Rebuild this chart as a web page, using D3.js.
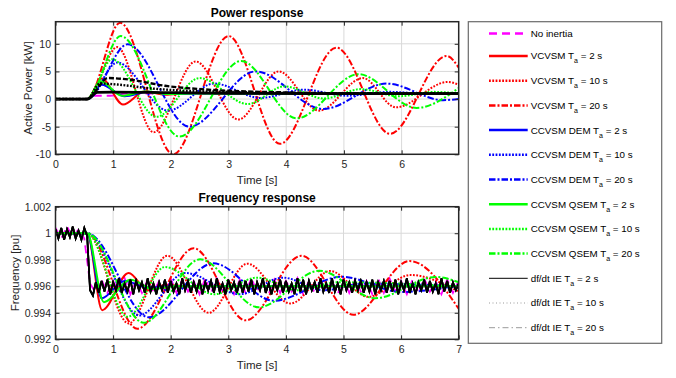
<!DOCTYPE html>
<html><head><meta charset="utf-8">
<script src="https://cdn.jsdelivr.net/npm/d3@7"></script>
<style>body{margin:0;background:#fff} svg{display:block;font-family:"Liberation Sans",Arial,sans-serif}</style>
</head><body><svg id="c" width="676" height="378"></svg>
<script>
// ---------- data ----------
const seriesNames = ["No inertia","VCVSM T_a = 2 s","VCVSM T_a = 10 s","VCVSM T_a = 20 s",
  "CCVSM DEM T_a = 2 s","CCVSM DEM T_a = 10 s","CCVSM DEM T_a = 20 s",
  "CCVSM QSEM T_a = 2 s","CCVSM QSEM T_a = 10 s","CCVSM QSEM T_a = 20 s",
  "df/dt IE T_a = 2 s","df/dt IE T_a = 10 s","df/dt IE T_a = 20 s"];
const powerXTicks = [0,1,2,3,4,5,6];
const freqXTicks = [0,1,2,3,4,5,6,7];
const powerYTicks = [-10,-5,0,5,10];
const powerYTickLabels = ["-10","-5","0","5","10"];
const freqYTicks = [0.992,0.994,0.996,0.998,1.0,1.002];
const freqYTickLabels = ["0.992","0.994","0.996","0.998","1","1.002"];

// Active power [kW]: [time s, value] points
const pNoInertia = [[0,0],[0.55,0],[0.68,0.6],[0.95,0.6],[1.25,1.0],[6.99,1.0]];
const pVCVSM2  = [[0,0],[0.55,0],[0.8,3.7],[1.17,-1.0],[1.55,1.4],[1.9,0.8],[2.3,1.05],[6.99,1.0]];
const pVCVSM10 = [[0,0],[0.55,0],[1.07,9.4],[1.7,-6.0],[2.43,6.8],[3.17,-3.7],[3.87,5.0],[4.57,-2.1],[5.33,3.8],[5.9,-1.5],[6.8,3.1],[6.99,2.6]];
const pVCVSM20 = [[0,0],[0.55,0],[1.12,13.8],[2.04,-10.0],[3.0,11.4],[3.89,-8.1],[4.87,9.3],[5.8,-6.3],[6.78,7.8],[6.99,5.7]];
const pDEM2  = [[0,0],[0.55,0],[0.8,2.6],[1.2,0.5],[1.6,1.3],[2.0,0.9],[2.4,1.0],[6.99,1.0]];
const pDEM10 = [[0,0],[0.55,0],[1.07,6.6],[1.95,-2.1],[2.75,2.8],[3.55,0.2],[4.3,1.7],[5.05,0.6],[5.8,1.3],[6.5,0.9],[6.99,1.0]];
const pDEM20 = [[0,0],[0.55,0],[1.25,9.9],[2.32,-5.0],[3.47,5.0],[4.64,-1.8],[5.74,2.8],[6.72,-0.2],[6.99,0.0]];
const pQSEM2  = [[0,0],[0.55,0],[0.78,3.2],[1.15,0.6],[1.55,1.35],[1.95,0.9],[2.4,1.0],[6.99,1.0]];
const pQSEM10 = [[0,0],[0.55,0],[0.98,7.2],[1.75,-3.2],[2.5,3.8],[3.33,-0.9],[3.97,2.3],[4.65,0.1],[5.3,1.8],[5.95,0.5],[6.55,1.3],[6.99,1.0]];
const pQSEM20 = [[0,0],[0.55,0],[1.13,11.4],[2.15,-6.8],[3.22,6.9],[4.18,-3.5],[5.25,4.5],[6.26,-1.6],[6.99,2.0]];
const pIE2  = [[0,0],[0.55,0],[0.72,1.2],[1.0,1.25],[2.0,1.15],[3.0,1.05],[4.5,1.0],[6.99,1.0]];
const pIE10 = [[0,0],[0.55,0],[0.77,2.8],[1.1,2.6],[1.58,2.0],[2.16,1.55],[3.0,1.3],[4.0,1.1],[5.0,1.0],[6.99,1.0]];
const pIE20 = [[0,0],[0.55,0],[0.91,3.8],[1.3,3.5],[1.9,2.4],[2.5,1.8],[3.0,1.5],[4.0,1.2],[5.0,1.05],[6.99,1.0]];

// Frequency [pu]
const fVCVSM2  = [[0,1.0],[0.55,1.0],[0.81,0.9942],[1.27,0.9970],[1.6,0.9957],[1.9,0.9961],[2.3,0.996],[7,0.996]];
const fVCVSM10 = [[0,1.0],[0.55,1.0],[1.27,0.9932],[1.94,0.9983],[2.66,0.9940],[3.33,0.9977],[4.08,0.9947],[4.77,0.99715],[5.43,0.9952],[6.16,0.99685],[7,0.9956]];
const fVCVSM20 = [[0,1.0],[0.55,1.0],[1.42,0.9928],[2.4,0.99886],[3.3,0.99343],[4.27,0.9983],[5.17,0.99385],[6.15,0.9979],[7,0.9943]];
const fDEM2  = [[0,1.0],[0.55,1.0],[0.8,0.9951],[1.2,0.9964],[1.6,0.9959],[2.0,0.996],[7,0.996]];
const fDEM10 = [[0,1.0],[0.55,1.0],[1.45,0.9938],[2.25,0.9970],[3.2,0.9954],[3.95,0.99665],[4.65,0.9957],[5.35,0.9962],[7,0.996]];
const fDEM20 = [[0,1.0],[0.55,1.0],[1.62,0.99366],[2.74,0.99773],[3.79,0.99491],[4.97,0.99672],[6.0,0.99557],[7,0.99605]];
const fQSEM2  = [[0,1.0],[0.55,1.0],[0.84,0.9948],[1.3,0.9965],[1.7,0.9958],[2.1,0.996],[7,0.996]];
const fQSEM10 = [[0,1.0],[0.55,1.0],[1.25,0.9937],[1.9,0.99745],[2.75,0.9954],[3.5,0.99665],[4.2,0.9957],[4.9,0.9963],[7,0.996]];
const fQSEM20 = [[0,1.0],[0.55,1.0],[1.53,0.99325],[2.51,0.99803],[3.53,0.99441],[4.58,0.99717],[5.55,0.9951],[6.6,0.9967],[7,0.9963]];
// measured (noisy) traces, sampled every 0.1 s (no inertia) and 0.05 s (df/dt IE)
const fNoInertia = [1.0004,0.9996,1.0005,0.9997,1.0003,0.9996,0.9962,0.9955,
  0.9965,0.9955,0.9964,0.9956,0.9966,0.9954,0.9964,0.9955,0.9965,0.9956,
  0.9964,0.9954,0.9966,0.9955,0.9965,0.9956,0.9964,0.9954,0.9966,0.9955,
  0.9966,0.9956,0.9964,0.9954,0.9965,0.9955,0.9966,0.9956,0.9964,0.9954,
  0.9965,0.9955,0.9964,0.9956,0.9966,0.9954,0.9964,0.9955,0.9965,0.9956,
  0.9964,0.9954,0.9966,0.9955,0.9965,0.9956,0.9964,0.9954,0.9966,0.9955,
  0.9966,0.9956,0.9964,0.9954,0.9965,0.9955,0.9966,0.9956,0.9964,0.9954,
  0.9965,0.9955,0.9964];
const fIE = [1.0003,0.9996,1.0004,0.9995,1.0003,0.9997,1.0005,0.9996,1.0002,0.9995,1.0004,
  0.9998,0.9957,0.9953,0.9963,
  0.9955,0.9964,0.9956,0.9965,0.9954,0.9963,0.9957,0.9966,0.9955,0.9962,
  0.9956,0.9965,0.9954,0.9964,0.9957,0.9963,0.9955,0.9966,0.9956,0.9962,
  0.9954,0.9963,0.9957,0.9965,0.9955,0.9964,0.9956,0.9962,0.9954,0.9966,
  0.9957,0.9964,0.9955,0.9963,0.9956,0.9965,0.9954,0.9963,0.9957,0.9964,
  0.9955,0.9966,0.9956,0.9962,0.9954,0.9965,0.9957,0.9963,0.9955,0.9964,
  0.9955,0.9964,0.9956,0.9965,0.9954,0.9963,0.9957,0.9966,0.9955,0.9962,
  0.9954,0.9963,0.9957,0.9965,0.9955,0.9964,0.9956,0.9962,0.9954,0.9966,
  0.9956,0.9965,0.9954,0.9964,0.9957,0.9963,0.9955,0.9966,0.9956,0.9962,
  0.9955,0.9966,0.9956,0.9962,0.9954,0.9965,0.9957,0.9963,0.9955,0.9964,
  0.9957,0.9964,0.9955,0.9963,0.9956,0.9965,0.9954,0.9963,0.9957,0.9964,
  0.9955,0.9964,0.9956,0.9965,0.9954,0.9963,0.9957,0.9966,0.9955,0.9962,
  0.9954,0.9963,0.9957,0.9965,0.9955,0.9964,0.9956,0.9962,0.9954,0.9966,
  0.9956,0.9964,0.9955,0.9963,0.9957,0.9962];

// ---------- styles ----------
const RED="#ff0000", BLUE="#0000ff", GREEN="#00ff00", MAG="#ff00ff";
const DOT="1.8,1.5", DASHDOT="6.5,2,2,2";
const styles = [
  {c:MAG, d:"8,5", w:2},
  {c:RED, d:null, w:2},{c:RED, d:DOT, w:2},{c:RED, d:DASHDOT, w:2},
  {c:BLUE, d:null, w:2},{c:BLUE, d:DOT, w:2},{c:BLUE, d:DASHDOT, w:2},
  {c:GREEN, d:null, w:2},{c:GREEN, d:DOT, w:2},{c:GREEN, d:DASHDOT, w:2},
  {c:"#000", d:null, w:2.8},{c:"#000", d:DOT, w:2.4},{c:"#000", d:"5,2", w:2.4}
];
const legendStyles = styles.map((s,i)=> i<10 ? Object.assign({},s,{w:2.5}) :
  (i===10 ? {c:"#000", d:null, w:1} : i===11 ? {c:"#9a9a9a", d:"1,2.5", w:1} : {c:"#9a9a9a", d:"6,3,1.5,3", w:1}));

const toPts = (arr, dt) => arr.map((v,i)=>[i*dt, v]);
const powerSeries = [pNoInertia,pVCVSM2,pVCVSM10,pVCVSM20,pDEM2,pDEM10,pDEM20,pQSEM2,pQSEM10,pQSEM20,pIE2,pIE10,pIE20];
const freqSeries = [toPts(fNoInertia,0.1),fVCVSM2,fVCVSM10,fVCVSM20,fDEM2,fDEM10,fDEM20,fQSEM2,fQSEM10,fQSEM20,
  toPts(fIE,0.05),toPts(fIE,0.05),toPts(fIE,0.05)];
const noisy = [true,false,false,false,false,false,false,false,false,false,true,true,true];

// ---------- drawing ----------
const svg = d3.select("#c");
const X0 = 55.5, X1 = 458.7;
const plots = [
  {series:powerSeries, xDom:[0,6.99], xTicks:powerXTicks, yDom:[-10,14], yTicks:powerYTicks, yLabels:powerYTickLabels,
   top:21.7, bottom:154.3, title:"Power response", ylabel:"Active Power [kW]", ylabX:32, titleY:16.5, xlabY:184, noisyFlags:noisy.map(()=>false)},
  {series:freqSeries, xDom:[0,7], xTicks:freqXTicks, yDom:[0.992,1.002], yTicks:freqYTicks, yLabels:freqYTickLabels,
   top:206.7, bottom:339.3, title:"Frequency response", ylabel:"Frequency [pu]", ylabX:18.5, titleY:201.5, xlabY:369, noisyFlags:noisy}
];
const TXT = "#262626";

plots.forEach((p, pi) => {
  const x = d3.scaleLinear().domain(p.xDom).range([X0, X1]);
  const y = d3.scaleLinear().domain(p.yDom).range([p.bottom, p.top]);
  const g = svg.append("g");
  g.append("g").selectAll("line").data(p.xTicks).join("line")
    .attr("x1", d=>x(d)).attr("x2", d=>x(d)).attr("y1", p.top).attr("y2", p.bottom)
    .attr("stroke", "#d9d9d9").attr("stroke-width", 1);
  g.append("g").selectAll("line").data(p.yTicks).join("line")
    .attr("y1", d=>y(d)).attr("y2", d=>y(d)).attr("x1", X0).attr("x2", X1)
    .attr("stroke", "#d9d9d9").attr("stroke-width", 1);
  const cid = "clip"+pi;
  svg.append("clipPath").attr("id", cid).append("rect")
    .attr("x", X0).attr("y", p.top).attr("width", X1-X0).attr("height", p.bottom-p.top);
  const lg = g.append("g").attr("clip-path", `url(#${cid})`);
  p.series.forEach((s, i) => {
    const st = styles[i];
    const line = d3.line().x(d=>x(d[0])).y(d=>y(d[1]))
      .curve(p.noisyFlags[i] ? d3.curveLinear : d3.curveMonotoneX);
    const w = p.noisyFlags[i] ? (i===0 ? 1.8 : 1.7) : st.w;
    lg.append("path").attr("d", line(s)).attr("fill", "none")
      .attr("stroke", st.c).attr("stroke-width", w)
      .attr("stroke-dasharray", p.noisyFlags[i] && i>0 ? null : st.d)
      .attr("stroke-linejoin", "miter");
  });
  const ax = g.append("g").attr("transform", `translate(0,${p.bottom})`)
    .call(d3.axisBottom(x).tickValues(p.xTicks).tickFormat(d3.format("d")).tickSize(-4).tickPadding(6.5));
  const ay = g.append("g").attr("transform", `translate(${X0},0)`)
    .call(d3.axisLeft(y).tickValues(p.yTicks).tickFormat((d,i)=>p.yLabels[i]).tickSize(-4).tickPadding(4.5));
  const at = g.append("g").attr("transform", `translate(0,${p.top})`)
    .call(d3.axisTop(x).tickValues(p.xTicks).tickFormat("").tickSize(-4));
  const ar = g.append("g").attr("transform", `translate(${X1},0)`)
    .call(d3.axisRight(y).tickValues(p.yTicks).tickFormat("").tickSize(-4));
  [ax, ay, at, ar].forEach(a => {
    a.select(".domain").remove();
    a.selectAll(".tick line").attr("stroke", TXT).attr("stroke-width", 1);
    a.selectAll("text").attr("fill", TXT).style("font-size", "10.5px")
      .style("font-family", '"Liberation Sans", Arial, sans-serif');
  });
  g.append("rect").attr("x", X0).attr("y", p.top).attr("width", X1-X0).attr("height", p.bottom-p.top)
    .attr("fill", "none").attr("stroke", TXT).attr("stroke-width", 1.5);
  g.append("text").attr("x", (X0+X1)/2).attr("y", p.titleY).attr("text-anchor", "middle")
    .attr("font-weight", "bold").attr("font-size", 12).attr("fill", "#000").text(p.title);
  g.append("text").attr("x", (X0+X1)/2).attr("y", p.xlabY).attr("text-anchor", "middle")
    .attr("font-size", 11.5).attr("fill", TXT).text("Time [s]");
  g.append("text").attr("transform", `translate(${p.ylabX},${(p.top+p.bottom)/2}) rotate(-90)`)
    .attr("text-anchor", "middle").attr("font-size", 11.5).attr("fill", TXT).text(p.ylabel);
});

// legend
const leg = svg.append("g");
leg.append("rect").attr("x", 468.3).attr("y", 21.7).attr("width", 193.4).attr("height", 321.6)
  .attr("fill", "#fff").attr("stroke", "#6a6a6a").attr("stroke-width", 1.2);
const rowY = i => i === 0 ? 33.5 : 56 + (i-1)*24.7;
seriesNames.forEach((name, i) => {
  const st = legendStyles[i];
  const yy = rowY(i);
  leg.append("line").attr("x1", 489).attr("x2", 527.7).attr("y1", yy).attr("y2", yy)
    .attr("stroke", st.c).attr("stroke-width", st.w).attr("stroke-dasharray", st.d);
  const t = leg.append("text").attr("x", 530.7).attr("y", yy + 3.4)
    .attr("font-size", 9.8).attr("fill", "#000");
  const parts = name.split("_a");
  if (parts.length === 1) { t.text(name); }
  else {
    t.append("tspan").text(parts[0]);
    t.append("tspan").attr("font-size", 7).attr("dy", 4).text("a");
    t.append("tspan").attr("dy", -4).text(parts[1]);
  }
});
</script>
</body></html>
